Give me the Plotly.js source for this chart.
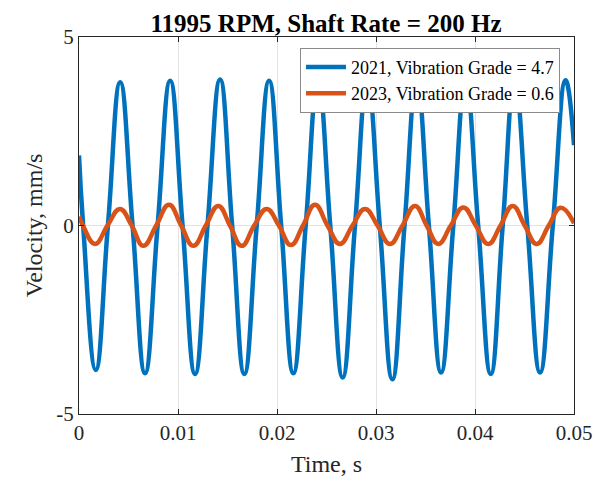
<!DOCTYPE html>
<html>
<head>
<meta charset="utf-8">
<script src="https://cdn.plot.ly/plotly-3.0.1.min.js"></script>
<style>html,body{margin:0;padding:0;background:#fff;}#chart{width:602px;height:484px;}</style>
</head>
<body>
<div id="chart"></div>
<script>
// Series 2021 (blue): extrema and zero crossings
var blueT = [0, 0.00042, 0.00169, 0.00292, 0.00416, 0.00541, 0.00667, 0.00794, 0.00921, 0.01046,
  0.01172, 0.01298, 0.01425, 0.01547, 0.0167, 0.01795, 0.0192, 0.02042, 0.02165, 0.0229,
  0.02414, 0.02538, 0.02663, 0.02788, 0.02912, 0.03038, 0.03165, 0.03288, 0.03411, 0.03534,
  0.03657, 0.03781, 0.03905, 0.04032, 0.04159, 0.0428, 0.044, 0.04528, 0.04657, 0.04786,
  0.04915, 0.05];
var blueV = [1.86, 0, -3.83, 0, 3.80, 0, -3.92, 0, 3.84, 0,
  -3.94, 0, 3.87, 0, -3.94, 0, 3.84, 0, -3.92, 0,
  3.85, 0, -4.03, 0, 3.85, 0, -4.08, 0, 3.85, 0,
  -3.90, 0, 3.85, 0, -3.94, 0, 3.85, 0, -3.90, 0,
  3.85, 2.13];

// Series 2023 (orange)
var orangeT = [0, 0.0004, 0.00162, 0.00288, 0.00414, 0.00532, 0.0065, 0.0078, 0.00909, 0.01032,
  0.01155, 0.01281, 0.01407, 0.01525, 0.01643, 0.0177, 0.01896, 0.02019, 0.02141, 0.02263,
  0.02384, 0.0251, 0.02636, 0.02763, 0.02889, 0.03015, 0.03141, 0.03268, 0.03394, 0.03512,
  0.03629, 0.03756, 0.03882, 0.04008, 0.04134, 0.04258, 0.04381, 0.04502, 0.04623, 0.04745,
  0.04866, 0.05];
var orangeV = [0.24, 0, -0.49, 0, 0.44, 0, -0.54, 0, 0.55, 0,
  -0.54, 0, 0.52, 0, -0.54, 0, 0.44, 0, -0.52, 0,
  0.55, 0, -0.49, 0, 0.44, 0, -0.49, 0, 0.52, 0,
  -0.49, 0, 0.48, 0, -0.49, 0, 0.52, 0, -0.49, 0,
  0.47, 0.06];

var seriesNames = ['2021, Vibration Grade = 4.7', '2023, Vibration Grade = 0.6'];
var xTickVals = [0, 0.01, 0.02, 0.03, 0.04, 0.05];
var xTickText = ['0', '0.01', '0.02', '0.03', '0.04', '0.05'];
var yTickVals = [-5, 0, 5];
var yTickText = ['-5', '0', '5'];

var fontFam = '"Liberation Serif", "Times New Roman", serif';

var traces = [
  {x: blueT, y: blueV, type: 'scatter', mode: 'lines', name: seriesNames[0],
   line: {color: '#0072BD', width: 4.5, shape: 'spline', smoothing: 1.3}},
  {x: orangeT, y: orangeV, type: 'scatter', mode: 'lines', name: seriesNames[1],
   line: {color: '#D95319', width: 4.5, shape: 'spline', smoothing: 1.3}}
];

var axisCommon = {
  showline: true, mirror: 'ticks', linecolor: '#262626', linewidth: 1,
  ticks: 'inside', ticklen: 5, tickcolor: '#262626', tickwidth: 1,
  showgrid: true, gridcolor: '#e3e3e3', gridwidth: 1, zeroline: false,
  tickfont: {family: fontFam, size: 21, color: '#262626'},
  tickmode: 'array'
};

var layout = {
  width: 602, height: 484,
  margin: {l: 79, r: 28, t: 37, b: 70},
  paper_bgcolor: '#ffffff', plot_bgcolor: '#ffffff',
  font: {family: fontFam, color: '#262626'},
  title: {text: '<b>11995 RPM, Shaft Rate = 200 Hz</b>', font: {family: fontFam, size: 25, color: '#000'},
          x: 0.5415, xanchor: 'center', y: 0.952, yanchor: 'middle'},
  xaxis: Object.assign({}, axisCommon, {
    range: [0, 0.05], tickvals: xTickVals, ticktext: xTickText,
    title: {text: 'Time, s', font: {family: fontFam, size: 24, color: '#262626'}, standoff: 10}
  }),
  yaxis: Object.assign({}, axisCommon, {
    range: [-5, 5], tickvals: yTickVals, ticktext: yTickText,
    title: {text: 'Velocity, mm/s', font: {family: fontFam, size: 24, color: '#262626'}, standoff: 6}
  }),
  showlegend: true,
  legend: {
    x: 0.9717, y: 0.9716, xanchor: 'right', yanchor: 'top',
    bgcolor: '#ffffff', bordercolor: '#8a8a8a', borderwidth: 1,
    font: {family: fontFam, size: 18, color: '#000'},
    tracegroupgap: 0, itemwidth: 40
  }
};

Plotly.newPlot('chart', traces, layout, {displayModeBar: false, staticPlot: true});
</script>
</body>
</html>
